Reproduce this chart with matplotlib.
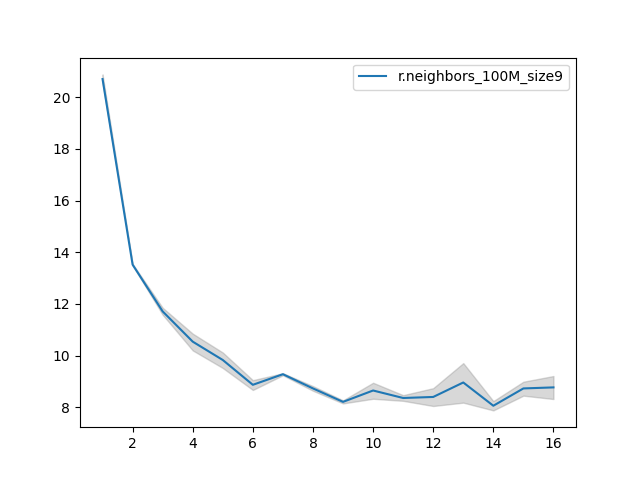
import numpy as np
import matplotlib
matplotlib.use("Agg")
import matplotlib.pyplot as plt

steps = [1, 2, 3, 4, 5, 6, 7, 8, 9, 10, 11, 12, 13, 14, 15, 16]
mean_vals = [20.70, 13.52, 11.71, 10.54, 9.83, 8.87, 9.28, 8.73, 8.21,
             8.65, 8.36, 8.40, 8.96, 8.06, 8.73, 8.77]
upper_vals = [20.88, 13.55, 11.85, 10.85, 10.12, 9.05, 9.32, 8.82, 8.27,
              8.95, 8.47, 8.74, 9.71, 8.24, 8.99, 9.21]
lower_vals = [20.56, 13.49, 11.58, 10.20, 9.52, 8.67, 9.24, 8.64, 8.15,
              8.33, 8.25, 8.05, 8.18, 7.88, 8.45, 8.32]
label = "r.neighbors_100M_size9"

fig, ax = plt.subplots(figsize=(6.4, 4.8), dpi=100)

ax.plot(steps, mean_vals, color="tab:blue", label=label)
ax.fill_between(steps, lower_vals, upper_vals, color="gray", alpha=0.3)

ax.legend(loc="upper right")

fig.savefig("out.png", dpi=100)
